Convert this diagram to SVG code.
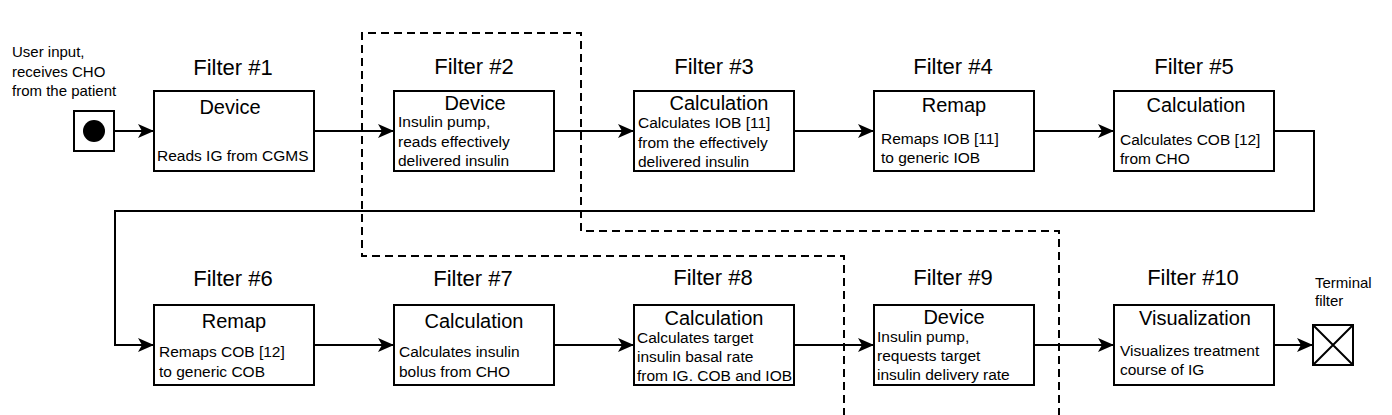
<svg xmlns="http://www.w3.org/2000/svg" width="1392" height="415" viewBox="0 0 1392 415">
<style>
  .box{fill:#fff;stroke:#000;stroke-width:2}
  .title{font-family:"Liberation Sans",Arial,sans-serif;font-size:22px;text-anchor:middle;fill:#000}
  .head{font-family:"Liberation Sans",Arial,sans-serif;font-size:20px;text-anchor:middle;fill:#000}
  .body{font-family:"Liberation Sans",Arial,sans-serif;font-size:15.5px;fill:#000}
  .note{font-family:"Liberation Sans",Arial,sans-serif;font-size:15px;fill:#000}
  .conn{fill:none;stroke:#000;stroke-width:2}
  .dash{fill:none;stroke:#000;stroke-width:2;stroke-dasharray:8 5}
</style>
<defs>
  <marker id="arr" viewBox="0 0 16 14" refX="16" refY="7" markerWidth="16" markerHeight="14" markerUnits="userSpaceOnUse" orient="auto">
    <path d="M0,0 L16,7 L0,14 L4,7 Z" fill="#000"/>
  </marker>
</defs>
<rect width="1392" height="415" fill="#fff"/>

<g id="boundary">
  <path class="dash" d="M844,416 V256 H362 V33 H581 V231 H1059 V416"/>
</g>

<g id="connectors">
  <path class="conn" d="M114,131 H154" marker-end="url(#arr)"/>
  <path class="conn" d="M314,131 H394" marker-end="url(#arr)"/>
  <path class="conn" d="M554,131 H634" marker-end="url(#arr)"/>
  <path class="conn" d="M794,131 H874" marker-end="url(#arr)"/>
  <path class="conn" d="M1034,131 H1114" marker-end="url(#arr)"/>
  <path class="conn" d="M1274,131 H1314 V211 H115 V345 H154" marker-end="url(#arr)"/>
  <path class="conn" d="M314,345 H394" marker-end="url(#arr)"/>
  <path class="conn" d="M554,345 H634" marker-end="url(#arr)"/>
  <path class="conn" d="M794,345 H874" marker-end="url(#arr)"/>
  <path class="conn" d="M1034,345 H1114" marker-end="url(#arr)"/>
  <path class="conn" d="M1274,345 H1313" marker-end="url(#arr)"/>
</g>

<g id="source">
  <text class="note"><tspan x="12" y="57">User input,</tspan><tspan x="12" y="77">receives CHO</tspan><tspan x="12" y="96">from the patient</tspan></text>
  <rect class="box" x="74" y="111" width="40" height="40"/>
  <circle cx="94" cy="131" r="11" fill="#000"/>
</g>

<g id="filter1">
  <text class="title" x="233" y="75">Filter #1</text>
  <rect class="box" x="154" y="91" width="160" height="80"/>
  <text class="head" x="230" y="114">Device</text>
  <text class="body" x="157" y="161">Reads IG from CGMS</text>
</g>

<g id="filter2">
  <text class="title" x="474" y="74">Filter #2</text>
  <rect class="box" x="394" y="91" width="160" height="80"/>
  <text class="head" x="475" y="110">Device</text>
  <text class="body"><tspan x="398" y="127">Insulin pump,</tspan><tspan x="398" y="147">reads effectively</tspan><tspan x="398" y="166">delivered insulin</tspan></text>
</g>

<g id="filter3">
  <text class="title" x="714" y="74">Filter #3</text>
  <rect class="box" x="634" y="91" width="160" height="80"/>
  <text class="head" x="719" y="110">Calculation</text>
  <text class="body"><tspan x="638" y="128">Calculates IOB [11]</tspan><tspan x="638" y="148">from the effectively</tspan><tspan x="638" y="167">delivered insulin</tspan></text>
</g>

<g id="filter4">
  <text class="title" x="953" y="74">Filter #4</text>
  <rect class="box" x="874" y="91" width="160" height="80"/>
  <text class="head" x="954" y="112">Remap</text>
  <text class="body"><tspan x="881" y="144">Remaps IOB [11]</tspan><tspan x="881" y="163">to generic IOB</tspan></text>
</g>

<g id="filter5">
  <text class="title" x="1194" y="74">Filter #5</text>
  <rect class="box" x="1114" y="91" width="160" height="80"/>
  <text class="head" x="1196" y="112">Calculation</text>
  <text class="body"><tspan x="1120" y="145">Calculates COB [12]</tspan><tspan x="1120" y="164">from CHO</tspan></text>
</g>

<g id="filter6">
  <text class="title" x="233" y="286">Filter #6</text>
  <rect class="box" x="154" y="305" width="160" height="80"/>
  <text class="head" x="234" y="328">Remap</text>
  <text class="body"><tspan x="159" y="357">Remaps COB [12]</tspan><tspan x="159" y="377">to generic COB</tspan></text>
</g>

<g id="filter7">
  <text class="title" x="473" y="286">Filter #7</text>
  <rect class="box" x="394" y="305" width="160" height="80"/>
  <text class="head" x="474" y="328">Calculation</text>
  <text class="body"><tspan x="399" y="357">Calculates insulin</tspan><tspan x="399" y="377">bolus from CHO</tspan></text>
</g>

<g id="filter8">
  <text class="title" x="713" y="285">Filter #8</text>
  <rect class="box" x="634" y="305" width="160" height="80"/>
  <text class="head" x="714" y="325">Calculation</text>
  <text class="body"><tspan x="637" y="343">Calculates target</tspan><tspan x="637" y="362">insulin basal rate</tspan><tspan x="637" y="381">from IG. COB and IOB</tspan></text>
</g>

<g id="filter9">
  <text class="title" x="953" y="285">Filter #9</text>
  <rect class="box" x="874" y="305" width="160" height="80"/>
  <text class="head" x="954" y="324">Device</text>
  <text class="body"><tspan x="877" y="342">Insulin pump,</tspan><tspan x="877" y="361">requests target</tspan><tspan x="877" y="380">insulin delivery rate</tspan></text>
</g>

<g id="filter10">
  <text class="title" x="1193" y="285">Filter #10</text>
  <rect class="box" x="1114" y="305" width="160" height="80"/>
  <text class="head" x="1195" y="325">Visualization</text>
  <text class="body"><tspan x="1120" y="356">Visualizes treatment</tspan><tspan x="1120" y="375">course of IG</tspan></text>
</g>

<g id="terminal">
  <text class="note"><tspan x="1315" y="288">Terminal</tspan><tspan x="1315" y="306">filter</tspan></text>
  <rect class="box" x="1313" y="325" width="40" height="40"/>
  <path class="conn" d="M1313,325 L1353,365 M1353,325 L1313,365"/>
</g>
</svg>
